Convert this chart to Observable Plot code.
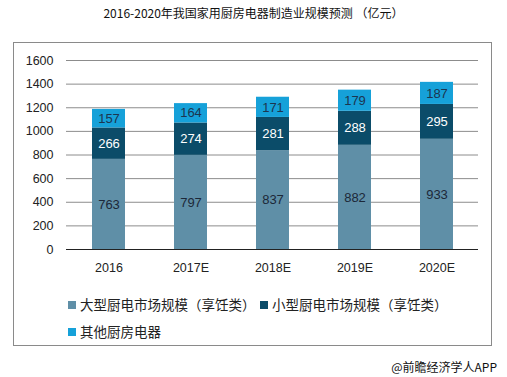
<!DOCTYPE html>
<html><head><meta charset="utf-8">
<script src="https://cdn.jsdelivr.net/npm/d3@7"></script>
<script src="https://cdn.jsdelivr.net/npm/@observablehq/plot@0.6"></script>
<style>
body{margin:0;background:#fff;}
#wrap{position:relative;width:507px;height:377px;overflow:hidden;font-family:"Liberation Sans",Arial,"Noto Sans CJK SC",sans-serif;}
#frame{position:absolute;left:13px;top:42px;width:479px;height:304px;border:1px solid #8a8a8a;box-sizing:border-box;}
#title{position:absolute;left:0;top:4px;width:507px;text-align:center;font:12px "Noto Sans CJK SC",sans-serif;color:#111;}
#chart{position:absolute;left:0;top:0;}
.leg{position:absolute;font:13.5px "Noto Sans CJK SC",sans-serif;color:#222;white-space:nowrap;}
.sw{display:inline-block;width:8px;height:8px;margin-right:4px;vertical-align:1px;}
#credit{position:absolute;right:10px;top:358px;font:12px "Noto Sans CJK SC",sans-serif;color:#111;}
</style></head>
<body><div id="wrap">
<div id="frame"></div>
<div id="title">2016-2020年我国家用厨房电器制造业规模预测 （亿元）</div>
<div id="chart"></div>
<div id="legend"></div>
<div id="credit">@前瞻经济学人APP</div>
</div>
<script>
const years = ["2016","2017E","2018E","2019E","2020E"];
const seriesNames = ["大型厨电市场规模（享饪类）","小型厨电市场规模（享饪类）","其他厨房电器"];
const large = [763,797,837,882,933];
const small = [266,274,281,288,295];
const other = [157,164,171,179,187];
const yTicks = [0,200,400,600,800,1000,1200,1400,1600];
const colors = ["#5f8fa7","#0b4c69","#16a1d9"];
const labelColors = ["#1c2838","#ffffff","#1c3550"];

const values = [large, small, other];
const data = [];
seriesNames.forEach((s,i)=>years.forEach((y,j)=>data.push({year:y, series:s, value:values[i][j], idx:i})));

const stackOpts = {x:"year", y:"value", z:"series", order: seriesNames};
const plot = Plot.plot({
  width:507, height:377,
  marginLeft:66, marginRight:29, marginTop:60, marginBottom:128,
  style:{fontFamily:'"Liberation Sans",Arial,sans-serif', background:"transparent", overflow:"visible"},
  x:{domain:years, paddingInner:0.6, paddingOuter:0.3, label:null, tickSize:0, tickPadding:14},
  y:{domain:[0,1600], ticks:yTicks, label:null, tickSize:0, tickPadding:13},
  color:{domain:seriesNames, range:colors},
  marks:[
    Plot.ruleY(yTicks.filter(d=>d>0), {stroke:"#8c8c8c", strokeWidth:1}),
    Plot.barY(data, Plot.stackY({...stackOpts, fill:"series"})),
    Plot.ruleY([0], {stroke:"#222", strokeWidth:1}),
    Plot.text(data, Plot.stackY({...stackOpts, text:d=>String(d.value), fill:d=>labelColors[d.idx], fontSize:13})),
    Plot.axisX({tickSize:0, tickPadding:14, fontSize:12.5, fill:"#222", label:null}),
    Plot.axisY({ticks:yTicks, tickFormat:d=>String(d), tickSize:0, tickPadding:13, fontSize:12.5, fill:"#222", label:null})
  ]
});
document.getElementById("chart").appendChild(plot);

const legPos = [[68,294],[260,294],[68,321]];
const leg = document.getElementById("legend");
seriesNames.forEach((s,i)=>{
  const d = document.createElement("div");
  d.className="leg";
  d.style.left=legPos[i][0]+"px"; d.style.top=legPos[i][1]+"px";
  d.innerHTML = `<span class="sw" style="background:${colors[i]}"></span>${s}`;
  leg.appendChild(d);
});
</script>
</body></html>
